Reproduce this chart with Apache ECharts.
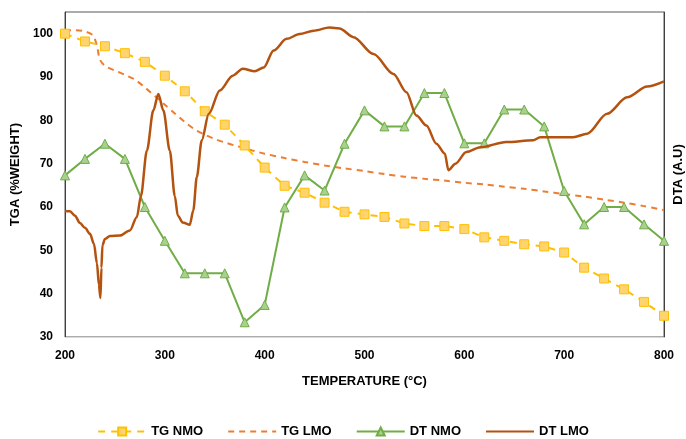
<!DOCTYPE html>
<html>
<head>
<meta charset="utf-8">
<script src="https://cdn.jsdelivr.net/npm/echarts@6/dist/echarts.min.js"></script>
<style>
html, body { margin: 0; padding: 0; background: #fff; }
#chart { width: 686px; height: 439px; }
</style>
</head>
<body>
<div id="chart"></div>
<script>
// temperatures of the sampled points (°C)
var temps20 = [200, 220, 240, 260, 280, 300, 320, 340, 360, 380, 400, 420, 440, 460, 480, 500,
  520, 540, 560, 580, 600, 620, 640, 660, 680, 700, 720, 740, 760, 780, 800];

var tgNmo = [100, 98.2, 97.1, 95.5, 93.5, 90.3, 86.7, 82.1, 79.0, 74.2, 69.1, 64.9, 63.3, 61.0, 58.9, 58.3,
  57.7, 56.2, 55.6, 55.6, 54.9, 53.0, 52.2, 51.4, 50.9, 49.5, 46.0, 43.5, 41.0, 38.1, 34.9];

var dtNmo = [67.3, 71.1, 74.6, 71.1, 60.0, 52.2, 44.7, 44.7, 44.7, 33.4, 37.4, 59.9, 67.3, 63.8, 74.6, 82.3,
  78.6, 78.6, 86.3, 86.3, 74.7, 74.7, 82.5, 82.5, 78.6, 63.7, 56.0, 60.0, 60.0, 56.0, 52.2];

var tgLmoT = [200, 210, 220, 228, 232, 235, 240, 250, 260, 270, 280, 290, 300, 310, 320, 330, 340, 350,
  360, 370, 380, 390, 400, 420, 440, 460, 480, 500, 520, 540, 560, 580, 600, 620, 640, 660, 680, 700,
  720, 740, 760, 780, 800];
var tgLmo = [100.8, 100.8, 100.5, 99.6, 97.2, 94.0, 92.6, 91.5, 90.5, 89.4, 87.6, 85.6, 83.6, 81.6, 79.6,
  77.9, 76.7, 75.7, 74.9, 74.2, 73.6, 72.9, 72.3, 71.3, 70.4, 69.6, 68.9, 68.3, 67.6, 67.0, 66.5, 66.1,
  65.6, 65.2, 64.7, 64.2, 63.6, 63.0, 62.4, 61.7, 61.0, 60.2, 59.3];

var dtLmoT = [200, 205, 210, 215, 220, 225, 229, 232, 234, 235.5, 236.5, 237.5, 240, 245, 255, 265, 272,
  276, 282, 288.5, 293.5, 298.5, 305, 310, 313, 318, 325, 328.5, 332, 337, 344, 355, 368, 378, 390, 399,
  409, 422, 435, 449, 465, 475, 489, 509, 529, 542, 552, 562, 572, 580.5, 584, 591, 602, 616, 642, 669,
  676, 709, 723, 743, 763, 783, 800];
var dtLmo = [59.1, 59.0, 58.0, 56.3, 55.2, 53.8, 51.5, 47.0, 42.0, 39.0, 46.0, 51.2, 52.6, 53.3, 53.4, 54.6,
  57.7, 62.5, 73.0, 82.3, 86.1, 82.3, 73.0, 62.5, 58.0, 56.4, 55.9, 59.2, 66.9, 75.4, 81.5, 86.9, 90.3,
  91.9, 91.3, 92.2, 96.1, 98.8, 99.9, 100.7, 101.4, 101.2, 99.2, 95.3, 90.7, 86.5, 81.1, 78.8, 74.6,
  72.3, 68.5, 70.0, 72.7, 73.8, 75.0, 75.4, 76.1, 76.1, 76.9, 81.5, 85.3, 87.8, 89.0];

function pairs(xs, ys) {
  return xs.map(function (x, i) { return [x, ys[i]]; });
}

var chart = echarts.init(document.getElementById('chart'));
var font = 'Liberation Sans, Arial, sans-serif';
var boldText = { fontFamily: font, fontWeight: 'bold', fontSize: 13, color: '#000' };

chart.setOption({
  animation: false,
  textStyle: { fontFamily: font },
  grid: {
    left: 65, right: 22, top: 12, bottom: 102,
    outerBoundsMode: 'none',
    containLabel: false,
    show: true, borderColor: '#595959', borderWidth: 1
  },
  legend: {
    top: 420,
    itemWidth: 48,
    itemHeight: 10,
    itemGap: 24,
    textStyle: boldText,
    data: [
      'TG NMO',
      { name: 'TG LMO', itemStyle: { opacity: 0 } },
      'DT NMO',
      { name: 'DT LMO', itemStyle: { opacity: 0 } }
    ]
  },
  xAxis: {
    type: 'value',
    min: 200, max: 800, interval: 100,
    name: 'TEMPERATURE (°C)',
    nameLocation: 'middle',
    nameGap: 38,
    nameTextStyle: boldText,
    axisLine: { lineStyle: { color: '#d9d9d9', width: 1 } },
    axisTick: { show: false },
    splitLine: { show: false },
    axisLabel: { margin: 13, fontFamily: font, fontWeight: 'bold', fontSize: 12, color: '#000' }
  },
  yAxis: [{
    type: 'value',
    min: 30, max: 105, interval: 10,
    name: 'TGA (%WEIGHT)',
    nameLocation: 'middle',
    nameGap: 42,
    nameTextStyle: boldText,
    axisLine: { show: true, lineStyle: { color: '#404040', width: 1 } },
    axisTick: { show: false },
    splitLine: { show: false },
    axisLabel: { margin: 12, showMaxLabel: false, fontFamily: font, fontWeight: 'bold', fontSize: 12, color: '#000' }
  }, {
    type: 'value',
    min: 30, max: 105, interval: 10,
    position: 'right',
    name: 'DTA (A.U)',
    nameLocation: 'middle',
    nameRotate: 90,
    nameGap: 8,
    nameTextStyle: boldText,
    axisLine: { show: true, lineStyle: { color: '#404040', width: 1 } },
    axisTick: { show: false },
    splitLine: { show: false },
    axisLabel: { show: false }
  }],
  series: [{
    name: 'TG NMO',
    type: 'line',
    data: pairs(temps20, tgNmo),
    symbol: 'rect',
    symbolSize: 9,
    itemStyle: { color: '#FFD36E', borderColor: '#FFC000', borderWidth: 1 },
    lineStyle: { color: '#FFC000', width: 2, type: [7, 6] },
    z: 3
  }, {
    name: 'TG LMO',
    type: 'line',
    data: pairs(tgLmoT, tgLmo),
    symbol: 'none',
    smooth: 0.3,
    itemStyle: { color: '#ED7D31' },
    lineStyle: { color: '#ED7D31', width: 2, type: [6, 5] },
    z: 2
  }, {
    name: 'DT NMO',
    type: 'line',
    yAxisIndex: 1,
    data: pairs(temps20, dtNmo),
    symbol: 'triangle',
    symbolSize: 9,
    itemStyle: { color: '#A9D18E', borderColor: '#70AD47', borderWidth: 1 },
    lineStyle: { color: '#70AD47', width: 2 },
    z: 4
  }, {
    name: 'DT LMO',
    type: 'line',
    yAxisIndex: 1,
    data: pairs(dtLmoT, dtLmo),
    symbol: 'none',
    smooth: 0.3,
    smoothMonotone: 'x',
    itemStyle: { color: '#B4520F' },
    lineStyle: { color: '#B4520F', width: 2.5 },
    z: 5
  }]
});
</script>
</body>
</html>
